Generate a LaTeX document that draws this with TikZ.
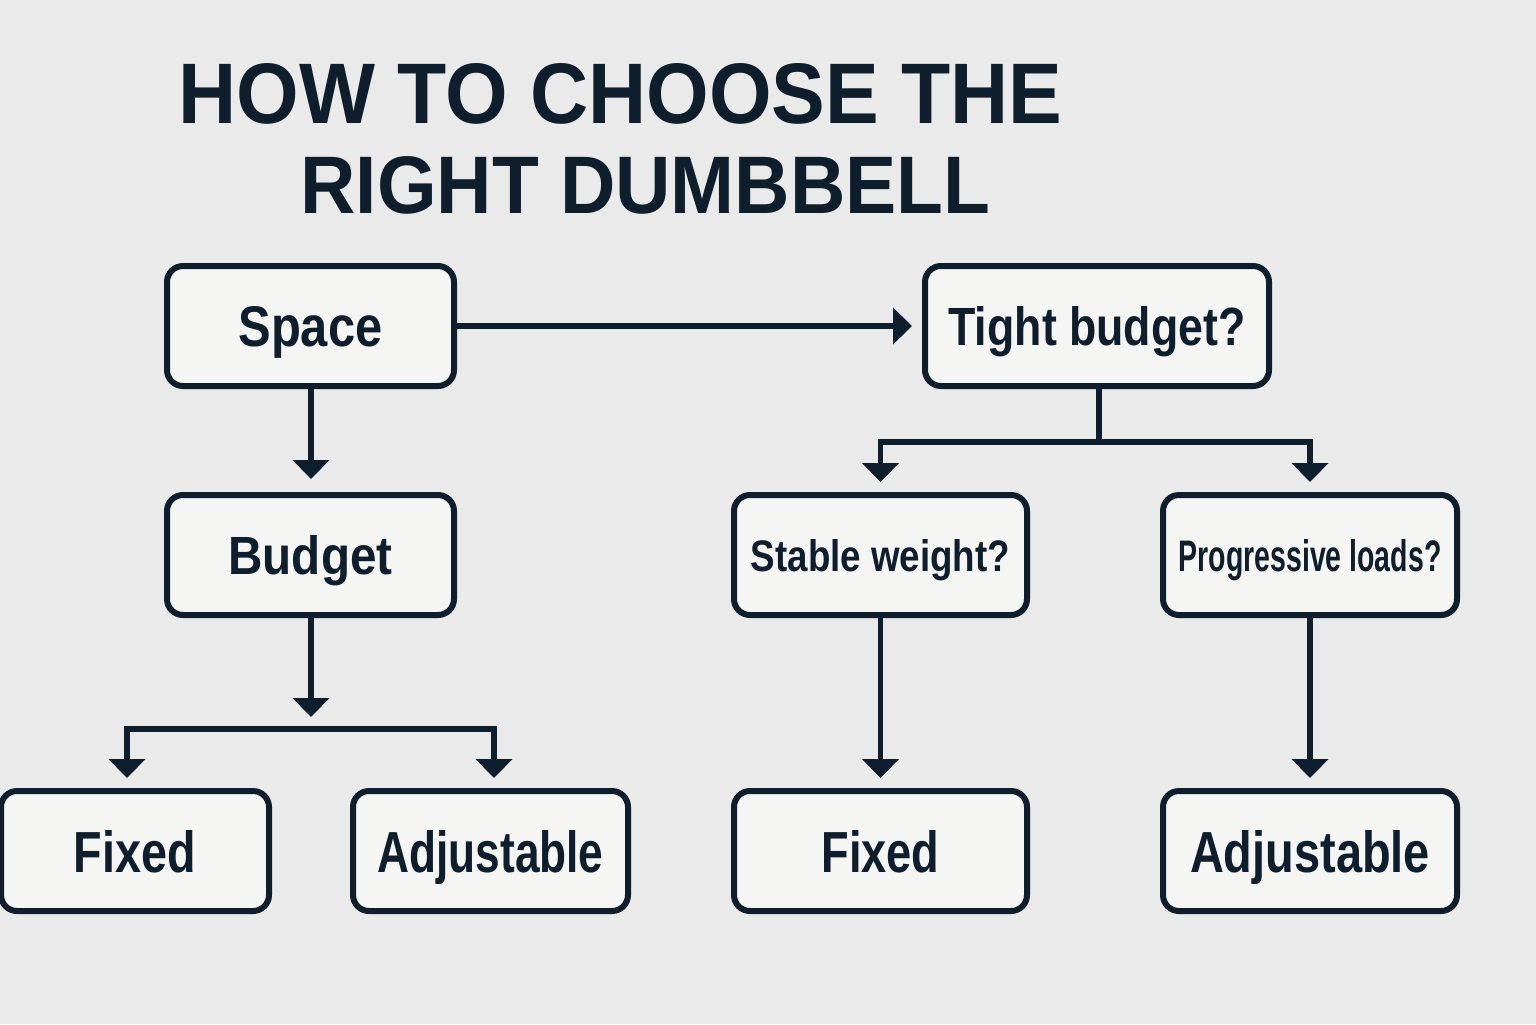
\documentclass[tikz,border=0pt]{standalone}
\usepackage{fontspec}
\setmainfont{Liberation Sans}
\usetikzlibrary{arrows.meta}
\definecolor{ink}{HTML}{0F1E2D}
\definecolor{bgc}{HTML}{EBEAEA}
\definecolor{boxc}{HTML}{F5F5F4}
\newcommand\fitt[3]{\raisebox{0pt}[\height][0pt]{\resizebox{#1pt}{#2pt}{\bfseries #3}}}
\tikzset{
  dbox/.style={draw=ink, fill=boxc, line width=3pt, rounded corners=8pt, inner sep=0pt, text=ink},
  conn/.style={draw=ink, line width=2.8pt, line join=miter},
  arr/.style={conn, -{Triangle[width=18pt,length=9.5pt]}, shorten >=5pt},
  ttl/.style={anchor=south west, inner sep=0pt, text=ink},
}
\begin{document}
\begin{tikzpicture}[x=0.5pt,y=-0.5pt]
\fill[bgc] (0,0) rectangle (1536,1024);
\useasboundingbox (0,0) rectangle (1536,1024);
% title
\node[ttl] (t1) at (178,125) {\resizebox{442pt}{30pt}{\bfseries HOW TO CHOOSE THE}};
\node[ttl] (t2) at (300,215) {\resizebox{345pt}{28.5pt}{\bfseries RIGHT DUMBBELL}};
% boxes
\node[dbox, minimum width=143.5pt, minimum height=60pt] (space) at (310.5,326) {\fitt{72}{20}{Space}};
\node[dbox, minimum width=143.5pt, minimum height=60pt] (budget) at (310.5,555) {\fitt{82}{19.5}{Budget}};
\node[dbox, minimum width=134pt, minimum height=60pt] (fixL) at (135,851) {\fitt{61}{21}{Fixed}};
\node[dbox, minimum width=137.5pt, minimum height=60pt] (adjL) at (490.5,851) {\fitt{113}{21}{Adjustable}};
\node[dbox, minimum width=172pt, minimum height=60pt] (tight) at (1097,326) {\fitt{148.5}{19.5}{Tight budget?}};
\node[dbox, minimum width=146.5pt, minimum height=60pt] (stable) at (880.5,555) {\fitt{129.5}{16}{Stable weight?}};
\node[dbox, minimum width=147pt, minimum height=60pt] (prog) at (1310,555) {\fitt{131.5}{16}{Progressive loads?}};
\node[dbox, minimum width=146.5pt, minimum height=60pt] (fixR) at (880.5,851) {\fitt{59}{21}{Fixed}};
\node[dbox, minimum width=147pt, minimum height=60pt] (adjR) at (1310,851) {\fitt{120}{21}{Adjustable}};
% connectors
\draw[arr] (space) -- (tight);
\draw[arr, shorten >=6.5pt] (space.south -| 311,0) -- (budget.north -| 311,0);
\coordinate (bt) at (311,717);
\draw[arr, shorten >=0pt] (budget.south -| bt) -- (bt);
\coordinate (bl) at (127,729);
\coordinate (br) at (494,729);
\draw[arr] (br) -- (bl) -- (bl |- fixL.north);
\draw[arr] (bl) -- (br) -- (br |- adjL.north);
\coordinate (tj) at (1099,442);
\draw[conn] (tight.south -| tj) -- (tj);
\draw[arr] (tj) -| (stable.north);
\draw[arr] (tj) -| (prog.north);
\draw[arr] (stable) -- (fixR);
\draw[arr] (prog) -- (adjR);
\end{tikzpicture}
\end{document}
